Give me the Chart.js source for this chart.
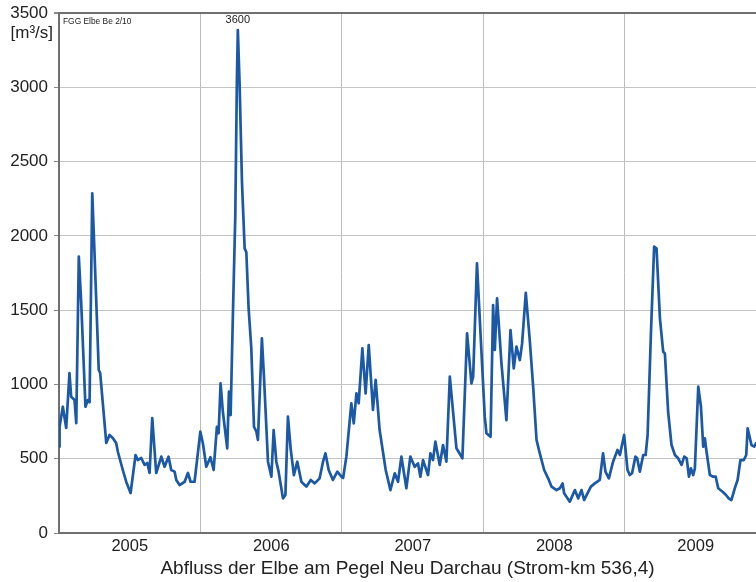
<!DOCTYPE html>
<html>
<head>
<meta charset="utf-8">
<script src="https://cdn.jsdelivr.net/npm/chart.js@4/dist/chart.umd.min.js"></script>
<style>
  html, body { margin: 0; padding: 0; background: #ffffff; }
  #wrap { width: 756px; height: 582px; }
</style>
</head>
<body>
<div id="wrap"><canvas id="c" width="756" height="582"></canvas></div>
<script>
// time in decimal years
const time = [
  2005.000, 2005.004, 2005.027, 2005.051, 2005.074, 2005.086, 2005.110, 2005.122, 2005.140, 2005.157,
  2005.187, 2005.204, 2005.216, 2005.235, 2005.251, 2005.281, 2005.291, 2005.334, 2005.357, 2005.380,
  2005.404, 2005.416, 2005.451, 2005.475, 2005.506, 2005.541, 2005.557, 2005.581, 2005.605, 2005.624,
  2005.640, 2005.659, 2005.687, 2005.723, 2005.746, 2005.774, 2005.793, 2005.817, 2005.829, 2005.852,
  2005.888, 2005.911, 2005.930, 2005.958, 2005.999,
  2006.017, 2006.041, 2006.070, 2006.093, 2006.116, 2006.128, 2006.142, 2006.158, 2006.189, 2006.201,
  2006.213, 2006.229, 2006.246, 2006.257, 2006.264, 2006.276, 2006.293, 2006.312, 2006.324, 2006.340,
  2006.359, 2006.378, 2006.395, 2006.406, 2006.434, 2006.448, 2006.477, 2006.501, 2006.517, 2006.536,
  2006.552, 2006.583, 2006.600, 2006.618, 2006.637, 2006.660, 2006.684, 2006.713, 2006.748, 2006.779,
  2006.807, 2006.842, 2006.866, 2006.883, 2006.906, 2006.936, 2006.967, 2006.996,
  2007.008, 2007.031, 2007.066, 2007.083, 2007.102, 2007.118, 2007.144, 2007.167, 2007.189, 2007.219,
  2007.238, 2007.266, 2007.309, 2007.342, 2007.373, 2007.396, 2007.420, 2007.455, 2007.483, 2007.514,
  2007.537, 2007.554, 2007.573, 2007.608, 2007.625, 2007.643, 2007.660, 2007.691, 2007.714, 2007.738,
  2007.762, 2007.809, 2007.851, 2007.884, 2007.915, 2007.927, 2007.954, 2007.985,
  2008.009, 2008.021, 2008.050, 2008.068, 2008.080, 2008.096, 2008.127, 2008.162, 2008.191, 2008.214,
  2008.233, 2008.257, 2008.273, 2008.299, 2008.327, 2008.351, 2008.375, 2008.398, 2008.429, 2008.457,
  2008.481, 2008.516, 2008.540, 2008.559, 2008.570, 2008.610, 2008.646, 2008.669, 2008.693, 2008.711,
  2008.759, 2008.787, 2008.822, 2008.845, 2008.862, 2008.886, 2008.916, 2008.947, 2008.964, 2008.994,
  2009.018, 2009.034, 2009.050, 2009.074, 2009.086, 2009.105, 2009.129, 2009.146, 2009.160, 2009.183,
  2009.206, 2009.223, 2009.247, 2009.270, 2009.282, 2009.305, 2009.329, 2009.353, 2009.376, 2009.400,
  2009.419, 2009.436, 2009.452, 2009.466, 2009.482, 2009.494, 2009.518, 2009.537, 2009.553, 2009.565,
  2009.573, 2009.600, 2009.624, 2009.641, 2009.659, 2009.690, 2009.714, 2009.733, 2009.752, 2009.776,
  2009.796, 2009.816, 2009.839, 2009.857, 2009.867, 2009.894, 2009.914, 2009.926
];
// discharge in m3/s
const flow = [
  581, 715, 850, 707, 1077, 917, 895, 740, 1860, 1548,
  850, 895, 880, 2286, 1884, 1097, 1077, 606, 660, 640,
  606, 547, 424, 345, 269, 525, 491, 505, 458, 471,
  404, 774, 404, 514, 446, 514, 424, 413, 357, 323,
  345, 404, 345, 345, 682,
  603, 446, 510, 424, 715, 671, 1007, 816, 570, 951,
  794, 1467, 2140, 3037, 3385, 3037, 2364, 1916, 1890, 1514,
  1245, 715, 682, 626, 1310, 1063, 480, 379, 693, 480,
  413, 233, 256, 783, 570, 390, 480, 345, 312, 357,
  334, 368, 480, 536, 424, 357, 413, 379,
  370, 514, 873, 738, 940, 873, 1243, 940, 1265, 828,
  1030, 693, 424, 289, 402, 345, 514, 301, 514, 446,
  469, 379, 491, 390, 536, 491, 615, 458, 592, 480,
  1052, 570, 503, 1344, 1007, 1052, 1815, 1232,
  783, 671, 648, 1534, 1232, 1579, 1142, 760, 1366, 1108,
  1254, 1164, 1276, 1617, 1299, 985, 626, 536, 424, 368,
  312, 289, 301, 334, 267, 211, 289, 233, 289, 222,
  312, 334, 357, 536, 413, 368, 480, 559, 525, 660,
  424, 390, 402, 514, 503, 413, 525, 525, 660, 1332,
  1927, 1916, 1445, 1220, 1209, 816, 592, 525, 503, 458,
  514, 503, 379, 435, 390, 435, 985, 850, 581, 637,
  570, 390, 379, 379, 301, 278, 256, 233, 222, 301,
  357, 491, 491, 525, 704, 592, 581, 604
];
const yearLabels = ['2005', '2006', '2007', '2008', '2009'];
const yTicks = [0, 500, 1000, 1500, 2000, 2500, 3000, 3500];
const unitLabel = '[m\u00B3/s]';
const sourceNote = 'FGG Elbe Be 2/10';
const peakLabel = '3600';
const axisTitle = 'Abfluss der Elbe am Pegel Neu Darchau (Strom-km 536,4)';

const FONT = '"Liberation Sans", Arial, Helvetica, sans-serif';
const firstYear = Number(yearLabels[0]);
const xTickValues = [];
yearLabels.forEach((y, i) => { xTickValues.push(firstYear + i); xTickValues.push(firstYear + i + 0.5); });

const peakIndex = flow.indexOf(Math.max(...flow));

const textPlugin = {
  id: 'texts',
  afterDraw(chart) {
    const ctx = chart.ctx;
    const xs = chart.scales.x, ys = chart.scales.y;
    ctx.save();
    ctx.fillStyle = '#222222';
    ctx.textBaseline = 'middle';
    ctx.font = '17px ' + FONT;
    ctx.textAlign = 'right';
    ctx.fillText(unitLabel, 53, ys.getPixelForValue(3500) + 20);
    ctx.font = '8.4px ' + FONT;
    ctx.textAlign = 'left';
    ctx.fillText(sourceNote, chart.chartArea.left + 4, ys.getPixelForValue(3500) + 9);
    ctx.font = '11px ' + FONT;
    ctx.textAlign = 'center';
    ctx.fillText(peakLabel, xs.getPixelForValue(time[peakIndex]), ys.getPixelForValue(3500) + 6.5);
    ctx.restore();
  }
};

new Chart(document.getElementById('c'), {
  type: 'line',
  data: {
    datasets: [{
      data: time.map((t, i) => ({ x: t, y: flow[i] })),
      borderColor: '#1b59a6',
      borderWidth: 2.7,
      borderJoinStyle: 'round',
      borderCapStyle: 'round',
      pointRadius: 0,
      tension: 0,
      fill: false
    }]
  },
  options: {
    responsive: false,
    animation: false,
    devicePixelRatio: 1,
    layout: { padding: { top: 0, right: 0, left: 0, bottom: 0 } },
    plugins: { legend: { display: false }, tooltip: { enabled: false } },
    scales: {
      x: {
        type: 'linear',
        min: firstYear,
        max: time[time.length - 1],
        afterBuildTicks: (s) => { s.ticks = xTickValues.map(v => ({ value: v })); },
        afterFit: (s) => { s.height = 49; },
        ticks: {
          autoSkip: false,
          maxRotation: 0,
          padding: 4,
          color: '#222222',
          font: { family: FONT, size: 16.5 },
          callback: (v) => Number.isInteger(v) ? '' : yearLabels[Math.floor(v) - firstYear]
        },
        grid: {
          drawTicks: false,
          color: (c) => (c.tick && Number.isInteger(c.tick.value)) ? '#bdbdbd' : 'rgba(0,0,0,0)',
          lineWidth: 1
        },
        border: { color: '#707070', width: 2 },
        title: {
          display: true,
          text: axisTitle,
          color: '#222222',
          font: { family: FONT, size: 19 },
          padding: { top: 0, bottom: 2 }
        }
      },
      y: {
        min: 0,
        max: 3500,
        afterBuildTicks: (s) => { s.ticks = yTicks.map(v => ({ value: v })); },
        afterFit: (s) => { s.width = 59; s.paddingTop = 13; s.paddingBottom = 0; },
        ticks: {
          padding: 6,
          color: '#222222',
          font: { family: FONT, size: 17 },
          callback: (v) => String(v)
        },
        grid: {
          color: (c) => (c.tick && c.tick.value === 3500) ? '#707070' : '#c4c4c4',
          lineWidth: (c) => (c.tick && c.tick.value === 3500) ? 2 : 1,
          tickColor: '#8a8a8a',
          tickLength: 5
        },
        border: { color: '#707070', width: 2 }
      }
    }
  },
  plugins: [textPlugin]
});
</script>
</body>
</html>
